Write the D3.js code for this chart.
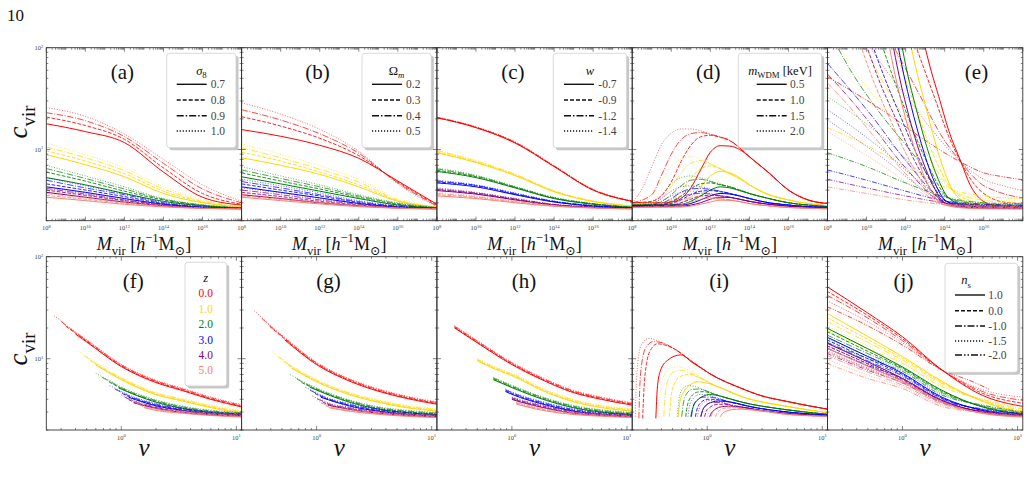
<!DOCTYPE html>
<html>
<head>
<meta charset="utf-8">
<script src="https://cdn.jsdelivr.net/npm/d3@7"></script>
<style>
  body { margin: 0; background: #fff; }
  svg text { font-family: "Liberation Serif", "DejaVu Serif", serif; }
</style>
</head>
<body>
<script>
// ---------------- data ----------------
const zLabels = ["0.0", "1.0", "2.0", "3.0", "4.0", "5.0"];
const zColors = ["#ff0000", "#ffd700", "#008000", "#0000ff", "#800080", "#fa8072"];
const sigma8Labels = ["0.7", "0.8", "0.9", "1.0"];
const omegaLabels = ["0.2", "0.3", "0.4", "0.5"];
const wLabels = ["-0.7", "-0.9", "-1.2", "-1.4"];
const mwdmLabels = ["0.5", "1.0", "1.5", "2.0"];
const nsLabels = ["1.0", "0.0", "-1.0", "-1.5", "-2.0"];
const panelLetters = ["(a)", "(b)", "(c)", "(d)", "(e)", "(f)", "(g)", "(h)", "(i)", "(j)"];

// log10 of M_vir where panels (a)-(c) are read
const massGrid = [8, 10, 12, 14, 16, 18];

// (a) sigma8: [z][style] c_vir at massGrid
const sigmaC = [
  [[17.9, 15.0, 11.7, 6.0, 3.4, 2.85], [20.8, 17.2, 12.6, 6.6, 3.7, 2.9], [23.0, 19.2, 13.4, 7.3, 4.1, 3.0], [25.8, 21.2, 14.2, 8.0, 4.5, 3.1]],
  [[8.9, 7.1, 5.4, 3.7, 3.0, 2.7], [9.7, 7.7, 5.8, 3.9, 3.05, 2.72], [10.6, 8.3, 6.2, 4.1, 3.1, 2.74], [11.6, 8.9, 6.6, 4.3, 3.2, 2.76]],
  [[5.3, 4.5, 3.7, 3.1, 2.8, 2.65], [6.0, 4.9, 3.9, 3.2, 2.82, 2.66], [6.5, 5.2, 4.1, 3.25, 2.85, 2.67], [7.0, 5.5, 4.3, 3.3, 2.87, 2.68]],
  [[4.3, 3.8, 3.3, 2.9, 2.7, 2.63], [4.6, 4.0, 3.45, 2.95, 2.72, 2.64], [5.0, 4.2, 3.6, 3.0, 2.74, 2.65], [5.3, 4.4, 3.7, 3.05, 2.76, 2.66]],
  [[3.8, 3.4, 3.05, 2.8, 2.67, 2.62], [4.0, 3.55, 3.15, 2.83, 2.68, 2.63], [4.15, 3.65, 3.2, 2.86, 2.69, 2.64], [4.3, 3.75, 3.3, 2.9, 2.7, 2.65]],
  [[3.4, 3.15, 2.9, 2.73, 2.64, 2.6], [3.55, 3.25, 2.97, 2.76, 2.65, 2.61], [3.7, 3.35, 3.03, 2.79, 2.66, 2.62], [3.9, 3.45, 3.1, 2.82, 2.68, 2.63]]
];

// (b) Omega_m
const omegaC = [
  [[15.7, 13.5, 11.0, 8.2, 4.9, 2.9], [21.0, 17.0, 12.9, 8.7, 4.8, 2.85], [24.6, 19.5, 14.3, 9.2, 4.7, 2.8], [28.8, 22.3, 15.8, 9.6, 4.6, 2.75]],
  [[8.3, 7.0, 5.7, 4.3, 3.1, 2.72], [9.4, 7.7, 6.0, 4.5, 3.15, 2.72], [10.4, 8.3, 6.4, 4.8, 3.2, 2.72], [11.4, 9.0, 6.9, 5.1, 3.3, 2.72]],
  [[5.4, 4.6, 3.9, 3.3, 2.85, 2.66], [5.9, 4.9, 4.1, 3.4, 2.9, 2.67], [6.3, 5.2, 4.3, 3.5, 2.95, 2.68], [6.8, 5.5, 4.5, 3.6, 3.0, 2.69]],
  [[4.3, 3.8, 3.35, 2.95, 2.72, 2.63], [4.6, 4.0, 3.5, 3.02, 2.75, 2.64], [4.85, 4.2, 3.6, 3.08, 2.78, 2.65], [5.1, 4.4, 3.75, 3.15, 2.8, 2.66]],
  [[3.6, 3.3, 3.0, 2.8, 2.67, 2.62], [3.8, 3.45, 3.1, 2.85, 2.69, 2.63], [4.0, 3.6, 3.2, 2.9, 2.71, 2.64], [4.2, 3.75, 3.3, 2.95, 2.73, 2.65]],
  [[3.4, 3.15, 2.92, 2.75, 2.65, 2.6], [3.5, 3.23, 2.97, 2.78, 2.66, 2.61], [3.65, 3.32, 3.03, 2.81, 2.67, 2.62], [3.8, 3.42, 3.1, 2.85, 2.69, 2.63]]
];

// (c) w
const wC = [
  [[20.5, 16.4, 11.6, 6.8, 4.0, 3.1], [20.6, 16.5, 11.7, 6.85, 4.0, 3.1], [20.7, 16.6, 11.8, 6.9, 4.05, 3.1], [20.8, 16.7, 11.9, 6.95, 4.05, 3.12]],
  [[9.3, 7.45, 5.55, 3.85, 3.08, 2.77], [9.5, 7.55, 5.6, 3.88, 3.1, 2.78], [9.75, 7.7, 5.7, 3.92, 3.12, 2.78], [9.95, 7.8, 5.75, 3.95, 3.13, 2.79]],
  [[6.1, 5.3, 4.2, 3.3, 2.9, 2.7], [6.25, 5.4, 4.25, 3.33, 2.92, 2.7], [6.45, 5.5, 4.3, 3.36, 2.94, 2.71], [6.6, 5.6, 4.35, 3.4, 2.95, 2.72]],
  [[4.7, 4.3, 3.6, 3.05, 2.78, 2.66], [4.8, 4.4, 3.65, 3.08, 2.8, 2.67], [4.9, 4.45, 3.7, 3.1, 2.81, 2.67], [5.0, 4.5, 3.75, 3.12, 2.82, 2.68]],
  [[3.95, 3.65, 3.2, 2.85, 2.7, 2.63], [4.03, 3.7, 3.24, 2.87, 2.71, 2.64], [4.1, 3.75, 3.28, 2.89, 2.72, 2.64], [4.2, 3.8, 3.32, 2.9, 2.73, 2.65]],
  [[3.5, 3.3, 3.0, 2.77, 2.66, 2.61], [3.6, 3.37, 3.05, 2.8, 2.67, 2.62], [3.7, 3.43, 3.1, 2.82, 2.68, 2.62], [3.8, 3.5, 3.15, 2.85, 2.69, 2.63]]
];

// (d) m_WDM: rising part per [z][style] as [log10 M, c], then shared tail per z
const wdmHeads = [
  [
    [[8, 3.0], [9.5, 3.0], [10, 3.05], [10.5, 3.3], [11, 4.2], [11.5, 6.3], [12, 9.4], [12.5, 10.9], [13, 10.8], [13.5, 10.0]],
    [[8, 3.0], [9, 3.1], [9.5, 3.5], [10, 4.8], [10.5, 7.6], [11, 11.0], [11.5, 13.3], [12, 13.8], [12.5, 13.2], [13, 12.2], [13.5, 10.4]],
    [[8, 3.0], [9, 3.6], [9.5, 5.6], [10, 9.0], [10.5, 12.5], [11, 14.3], [11.5, 14.7], [12, 14.1], [12.5, 13.3], [13, 12.3], [13.5, 10.4]],
    [[8, 3.0], [8.5, 4.1], [9, 6.8], [9.5, 11.2], [10, 14.5], [10.5, 15.9], [11, 15.9], [11.5, 15.3], [12, 14.2], [12.5, 13.3], [13, 12.3], [13.5, 10.4]]
  ],
  [
    [[8, 2.9], [10, 2.9], [10.5, 3.0], [11, 3.4], [11.5, 4.3], [12, 5.5], [12.5, 6.1], [13, 5.9], [13.5, 5.3]],
    [[8, 2.9], [9, 2.9], [10, 3.2], [10.5, 3.9], [11, 5.2], [11.5, 6.5], [12, 6.9], [12.5, 6.5], [13, 5.8], [13.5, 5.15]],
    [[8, 2.9], [9, 3.0], [9.5, 3.3], [10, 4.3], [10.5, 5.9], [11, 7.3], [11.5, 7.8], [12, 7.2], [12.5, 6.5], [13, 5.8], [13.5, 5.15]],
    [[8, 2.9], [8.5, 3.0], [9, 3.5], [9.5, 4.9], [10, 6.8], [10.5, 8.1], [11, 8.5], [11.5, 8.2], [12, 7.3], [12.5, 6.5], [13, 5.8], [13.5, 5.15]]
  ],
  [
    [[8, 2.85], [10.5, 2.9], [11, 3.1], [11.5, 3.5], [12, 4.0], [12.5, 4.3], [13, 4.2], [13.5, 3.95]],
    [[8, 2.85], [9.5, 2.9], [10, 3.1], [10.5, 3.5], [11, 4.1], [11.5, 4.6], [12, 4.7], [12.5, 4.5], [13, 4.3], [13.5, 4.0]],
    [[8, 2.85], [9, 2.9], [9.5, 3.1], [10, 3.6], [10.5, 4.4], [11, 5.0], [11.5, 5.1], [12, 4.85], [12.5, 4.55], [13, 4.3], [13.5, 4.0]],
    [[8, 2.85], [9, 3.1], [9.5, 3.6], [10, 4.6], [10.5, 5.3], [11, 5.5], [11.5, 5.3], [12, 4.9], [12.5, 4.6], [13, 4.3], [13.5, 4.0]]
  ],
  [
    [[8, 2.8], [10.5, 2.85], [11, 2.95], [11.5, 3.2], [12, 3.5], [12.5, 3.7], [13, 3.65], [13.5, 3.5]],
    [[8, 2.8], [9.5, 2.85], [10, 2.95], [10.5, 3.2], [11, 3.6], [11.5, 3.9], [12, 3.95], [12.5, 3.85], [13, 3.7], [13.5, 3.5]],
    [[8, 2.8], [9, 2.85], [9.5, 2.95], [10, 3.3], [10.5, 3.8], [11, 4.1], [11.5, 4.15], [12, 4.05], [12.5, 3.9], [13, 3.7], [13.5, 3.5]],
    [[8, 2.8], [9, 2.95], [9.5, 3.3], [10, 3.9], [10.5, 4.3], [11, 4.4], [11.5, 4.3], [12, 4.1], [12.5, 3.9], [13, 3.7], [13.5, 3.5]]
  ],
  [
    [[8, 2.75], [10.5, 2.78], [11, 2.85], [11.5, 3.0], [12, 3.25], [12.5, 3.4], [13, 3.38], [13.5, 3.25]],
    [[8, 2.75], [10, 2.8], [10.5, 3.0], [11, 3.25], [11.5, 3.5], [12, 3.55], [12.5, 3.5], [13, 3.4], [13.5, 3.25]],
    [[8, 2.75], [9.5, 2.85], [10, 3.05], [10.5, 3.4], [11, 3.65], [11.5, 3.72], [12, 3.65], [12.5, 3.52], [13, 3.4], [13.5, 3.25]],
    [[8, 2.75], [9, 2.85], [9.5, 3.1], [10, 3.5], [10.5, 3.8], [11, 3.9], [11.5, 3.85], [12, 3.7], [12.5, 3.55], [13, 3.4], [13.5, 3.25]]
  ],
  [
    [[8, 2.7], [10.5, 2.72], [11, 2.78], [11.5, 2.9], [12, 3.05], [12.5, 3.18], [13, 3.17], [13.5, 3.08]],
    [[8, 2.7], [10, 2.73], [10.5, 2.85], [11, 3.05], [11.5, 3.25], [12, 3.32], [12.5, 3.28], [13, 3.2], [13.5, 3.08]],
    [[8, 2.7], [9.5, 2.78], [10, 2.9], [10.5, 3.15], [11, 3.38], [11.5, 3.45], [12, 3.4], [12.5, 3.3], [13, 3.2], [13.5, 3.08]],
    [[8, 2.7], [9, 2.8], [9.5, 2.95], [10, 3.25], [10.5, 3.5], [11, 3.6], [11.5, 3.55], [12, 3.45], [12.5, 3.32], [13, 3.2], [13.5, 3.08]]
  ]
];
const wdmTails = [
  [[14, 8.5], [15, 5.9], [16, 4.0], [17, 3.2], [18, 2.95]],
  [[14, 4.5], [15, 3.6], [16, 3.2], [17, 2.95], [18, 2.8]],
  [[14, 3.7], [15, 3.3], [16, 3.0], [17, 2.85], [18, 2.75]],
  [[14, 3.3], [15, 3.0], [16, 2.85], [17, 2.75], [18, 2.7]],
  [[14, 3.1], [15, 2.9], [16, 2.78], [17, 2.7], [18, 2.66]],
  [[14, 2.95], [15, 2.8], [16, 2.7], [17, 2.65], [18, 2.62]]
];

// (e) n_s: [z][style] as [log10 M, c]
const nsMass = [
  [
    [[12.9, 120], [13.3, 60], [13.7, 33], [14.2, 15.5], [14.84, 7.5], [15.3, 4.5], [15.8, 3.3], [16.5, 2.85], [17.2, 2.75], [18, 2.72]],
    [[12.4, 120], [13, 58], [13.6, 28], [14.2, 13.5], [14.84, 7.5], [15.5, 4.6], [16.3, 3.4], [17, 3.05], [18, 2.95]],
    [[11.2, 120], [12, 62], [12.8, 32], [13.8, 14], [14.84, 7.5], [15.8, 4.7], [16.8, 3.8], [18, 3.35]],
    [[9.9, 120], [11, 60], [12, 34], [13.3, 16], [14.84, 7.5], [16, 5.1], [17, 4.4], [18, 3.95]],
    [[8, 52], [9.5, 35], [11, 23], [13, 12.3], [14.84, 7.5], [16, 5.9], [17, 5.4], [18, 5.05]]
  ],
  [
    [[12.2, 120], [12.6, 55], [13, 28], [13.5, 12], [14, 6.0], [14.4, 4.0], [15, 3.1], [16, 2.8], [18, 2.72]],
    [[11.3, 120], [11.9, 55], [12.5, 26], [13.3, 10], [14.4, 4.0], [15.2, 3.2], [16.5, 2.9], [18, 2.8]],
    [[9.8, 120], [10.6, 56], [11.5, 28], [12.8, 11], [14.4, 4.0], [15.5, 3.3], [18, 2.95]],
    [[8.4, 120], [9.5, 55], [10.8, 27], [12.5, 11.2], [14.4, 4.0], [16, 3.3], [18, 3.1]],
    [[8, 16.4], [10, 11], [12, 6.8], [14.4, 4.0], [16, 3.5], [18, 3.3]]
  ],
  [
    [[11.75, 120], [12.1, 55], [12.5, 27], [13, 12], [13.6, 5.5], [14.2, 3.35], [15, 2.85], [16, 2.72], [18, 2.68]],
    [[10.7, 120], [11.3, 55], [12.0, 24], [12.9, 9], [14.2, 3.35], [15.2, 2.9], [18, 2.75]],
    [[8.3, 120], [9.3, 55], [10.6, 24], [12.3, 9.5], [14.2, 3.35], [15.5, 2.95], [18, 2.82]],
    [[8, 33], [9.5, 21], [11, 12.5], [12.5, 6.5], [14.2, 3.35], [16, 2.95], [18, 2.88]],
    [[8, 9.3], [10, 6.8], [12, 4.7], [14.2, 3.35], [16, 3.0], [18, 2.92]]
  ],
  [
    [[11.55, 120], [11.9, 55], [12.3, 26], [12.8, 11.5], [13.4, 5.2], [14.1, 3.1], [15, 2.75], [16, 2.67], [18, 2.65]],
    [[10.2, 120], [10.9, 52], [11.7, 22], [12.7, 8], [14.1, 3.1], [15.2, 2.78], [18, 2.7]],
    [[8, 70], [9, 42], [10.3, 21], [12, 7.8], [14.1, 3.1], [15.5, 2.82], [18, 2.75]],
    [[8, 24.6], [9.5, 15.5], [11, 9.3], [12.5, 5.2], [14.1, 3.1], [16, 2.85], [18, 2.8]],
    [[8, 6.3], [10, 5.0], [12, 3.9], [14.1, 3.1], [16, 2.9], [18, 2.85]]
  ],
  [
    [[11.3, 120], [11.65, 55], [12.05, 26], [12.6, 11], [13.3, 4.9], [14.0, 3.0], [15, 2.7], [16, 2.65], [18, 2.63]],
    [[9.9, 120], [10.6, 50], [11.5, 20], [12.5, 7.5], [14.0, 3.0], [15.2, 2.74], [18, 2.68]],
    [[8, 55], [9, 34], [10.3, 17], [12, 6.6], [14.0, 3.0], [15.5, 2.78], [18, 2.72]],
    [[8, 19.5], [9.5, 12.5], [11, 7.8], [12.5, 4.6], [14.0, 3.0], [16, 2.8], [18, 2.76]],
    [[8, 5.1], [10, 4.2], [12, 3.5], [14.0, 3.0], [16, 2.85], [18, 2.8]]
  ],
  [
    [[11.1, 120], [11.45, 55], [11.85, 26], [12.4, 11], [13.1, 4.7], [13.9, 2.9], [15, 2.66], [16, 2.62], [18, 2.6]],
    [[9.6, 120], [10.3, 50], [11.2, 20], [12.3, 7.2], [13.9, 2.9], [15.2, 2.7], [18, 2.65]],
    [[8, 45], [9, 28], [10.3, 14], [12, 5.8], [13.9, 2.9], [15.5, 2.74], [18, 2.68]],
    [[8, 15], [9.5, 10], [11, 6.6], [12.5, 4.1], [13.9, 2.9], [16, 2.76], [18, 2.72]],
    [[8, 4.3], [10, 3.7], [12, 3.2], [13.9, 2.9], [16, 2.8], [18, 2.76]]
  ]
];

// (f) c vs nu for sigma8: band per z, styles start at different points of it
const sigmaNu = [
  [[0.26, 25.6], [0.3, 23], [0.33, 21], [0.4, 17.9], [0.5, 15.0], [1, 8.6], [2, 6.0], [3.4, 5.0], [6, 4.1], [11.2, 3.45]],
  [[0.42, 11.6], [0.475, 10.6], [0.535, 9.7], [0.6, 8.9], [1, 6.4], [2, 4.55], [3.4, 3.95], [6, 3.4], [11.2, 3.0]],
  [[0.6, 7.0], [0.68, 6.5], [0.78, 6.0], [0.95, 5.3], [2, 3.85], [3.4, 3.35], [6, 3.05], [11.2, 2.9]],
  [[0.79, 5.3], [0.88, 5.0], [1.02, 4.6], [1.16, 4.3], [2, 3.55], [3.4, 3.2], [6, 2.95], [11.2, 2.85]],
  [[1.0, 4.3], [1.07, 4.15], [1.16, 4.0], [1.28, 3.8], [2, 3.35], [3.4, 3.05], [6, 2.88], [11.2, 2.8]],
  [[1.17, 3.9], [1.31, 3.7], [1.44, 3.55], [1.58, 3.4], [2, 3.2], [3.4, 3.0], [6, 2.85], [11.2, 2.75]]
];
const sigmaNuStart = [3, 2, 1, 0];

// (g) Omega_m
const omegaNu = [
  [[0.287, 28.8], [0.335, 24.6], [0.39, 21], [0.53, 15.7], [1, 9.0], [2, 6.1], [3.4, 4.95], [6, 4.2], [11.2, 3.67]],
  [[0.41, 11.4], [0.46, 10.4], [0.52, 9.4], [0.61, 8.3], [1, 6.1], [2, 4.5], [3.4, 3.85], [6, 3.4], [11.2, 3.15]],
  [[0.59, 6.8], [0.67, 6.3], [0.74, 5.9], [0.87, 5.4], [2, 3.8], [3.4, 3.3], [6, 3.05], [11.2, 2.9]],
  [[0.8, 5.1], [0.88, 4.85], [0.97, 4.6], [1.09, 4.3], [2, 3.5], [3.4, 3.15], [6, 2.92], [11.2, 2.8]],
  [[0.92, 4.2], [1.01, 4.0], [1.13, 3.8], [1.25, 3.6], [2, 3.25], [3.4, 3.0], [6, 2.85], [11.2, 2.75]],
  [[1.0, 3.8], [1.09, 3.65], [1.2, 3.5], [1.28, 3.4], [2, 3.12], [3.4, 2.93], [6, 2.8], [11.2, 2.72]]
];
const omegaNuStart = [3, 2, 1, 0];

// (h) w
const wNu = [
  [[0.317, 20.6], [0.5, 14.7], [1, 9.0], [2, 6.1], [3.2, 4.9], [6, 4.1], [11.2, 3.6]],
  [[0.5, 9.8], [0.7, 8.2], [1, 7.0], [2, 4.8], [3.4, 3.9], [6, 3.4], [11.2, 3.15]],
  [[0.69, 6.4], [1, 5.35], [2, 4.0], [3.4, 3.4], [6, 3.08], [11.2, 2.9]],
  [[0.88, 4.9], [1, 4.6], [2, 3.6], [3.4, 3.15], [6, 2.92], [11.2, 2.8]],
  [[1.0, 4.1], [1.2, 3.85], [2, 3.35], [3.4, 3.0], [6, 2.85], [11.2, 2.75]],
  [[1.09, 3.7], [1.3, 3.5], [2, 3.15], [3.4, 2.92], [6, 2.8], [11.2, 2.72]]
];
const wNuStart = [0, 0, 0, 0];

// (i) m_WDM vs nu
const wdmNuHeads = [
  [
    [[0.358, 2.6], [0.368, 5], [0.39, 7.5], [0.45, 9.6], [0.59, 10.9], [0.75, 9.1], [0.9, 8.0]],
    [[0.275, 2.6], [0.282, 5], [0.295, 8.5], [0.32, 12], [0.37, 14.0], [0.45, 13.4], [0.55, 12.0], [0.7, 9.8], [0.85, 8.4]],
    [[0.255, 2.6], [0.26, 5.5], [0.272, 9.5], [0.295, 13], [0.34, 14.7], [0.4, 14.4], [0.5, 12.8], [0.7, 9.8], [0.85, 8.4]],
    [[0.237, 2.7], [0.242, 5.5], [0.252, 10], [0.27, 14], [0.313, 15.8], [0.38, 14.8], [0.5, 12.8], [0.7, 9.8], [0.85, 8.4]]
  ],
  [
    [[0.56, 2.7], [0.58, 3.8], [0.63, 4.8], [0.72, 5.6], [0.82, 5.95], [1.0, 5.75], [1.15, 5.5]],
    [[0.47, 2.7], [0.485, 4.2], [0.52, 5.7], [0.6, 6.8], [0.7, 7.0], [0.85, 6.5], [1.05, 5.8], [1.15, 5.5]],
    [[0.42, 2.7], [0.432, 4.5], [0.46, 6.3], [0.52, 7.5], [0.6, 7.7], [0.72, 7.2], [0.9, 6.4], [1.05, 5.8], [1.15, 5.5]],
    [[0.38, 2.7], [0.39, 4.5], [0.42, 6.8], [0.48, 8.1], [0.55, 8.35], [0.68, 7.8], [0.85, 6.7], [1.05, 5.8], [1.15, 5.5]]
  ],
  [
    [[0.72, 2.7], [0.75, 3.3], [0.82, 3.9], [0.93, 4.3], [1.05, 4.45], [1.18, 4.4]],
    [[0.65, 2.7], [0.67, 3.4], [0.72, 4.2], [0.82, 4.7], [0.93, 4.75], [1.08, 4.6], [1.18, 4.45]],
    [[0.6, 2.7], [0.62, 3.6], [0.66, 4.5], [0.74, 5.0], [0.84, 5.05], [1.0, 4.8], [1.18, 4.45]],
    [[0.55, 2.7], [0.565, 3.8], [0.6, 4.9], [0.68, 5.45], [0.78, 5.35], [0.98, 4.85], [1.18, 4.45]]
  ],
  [
    [[0.88, 2.7], [0.91, 3.1], [0.98, 3.5], [1.1, 3.75], [1.25, 3.85], [1.45, 3.8]],
    [[0.79, 2.7], [0.815, 3.2], [0.88, 3.7], [1.0, 4.0], [1.15, 4.0], [1.35, 3.9]],
    [[0.73, 2.7], [0.75, 3.3], [0.81, 3.9], [0.92, 4.2], [1.06, 4.2], [1.3, 4.0]],
    [[0.68, 2.7], [0.7, 3.4], [0.76, 4.1], [0.86, 4.45], [1.0, 4.4], [1.25, 4.1]]
  ],
  [
    [[1.05, 2.7], [1.09, 2.95], [1.18, 3.2], [1.33, 3.38], [1.53, 3.42], [1.78, 3.38]],
    [[0.95, 2.7], [0.98, 3.05], [1.06, 3.35], [1.18, 3.55], [1.38, 3.58], [1.68, 3.45]],
    [[0.88, 2.7], [0.91, 3.1], [0.98, 3.5], [1.1, 3.72], [1.28, 3.72], [1.6, 3.52]],
    [[0.82, 2.7], [0.85, 3.2], [0.92, 3.65], [1.03, 3.9], [1.2, 3.85], [1.5, 3.6]]
  ],
  [
    [[1.3, 2.7], [1.35, 2.88], [1.46, 3.05], [1.65, 3.17], [1.93, 3.2], [2.25, 3.17]],
    [[1.18, 2.7], [1.22, 2.95], [1.31, 3.15], [1.48, 3.3], [1.73, 3.3], [2.12, 3.22]],
    [[1.08, 2.7], [1.12, 3.0], [1.2, 3.25], [1.36, 3.42], [1.58, 3.4], [2.02, 3.25]],
    [[1.0, 2.7], [1.04, 3.05], [1.11, 3.35], [1.25, 3.55], [1.48, 3.5], [1.97, 3.3]]
  ]
];
const wdmNuTails = [
  [[1.04, 7.2], [2, 5.1], [2.83, 4.4], [5, 3.8], [10, 3.27], [11.2, 3.2]],
  [[1.3, 5.2], [2, 4.25], [5, 3.4], [11.2, 2.95]],
  [[1.3, 4.3], [2, 3.75], [5, 3.15], [11.2, 2.85]],
  [[1.6, 3.75], [2.5, 3.35], [5, 3.0], [11.2, 2.8]],
  [[2, 3.35], [3, 3.1], [5, 2.9], [11.2, 2.75]],
  [[2.5, 3.15], [5, 2.85], [11.2, 2.72]]
];

// (j) n_s vs nu
const nsNu = [
  [
    [[0.22, 51], [0.5, 28], [1, 16.4], [2.2, 7.75], [5, 4.35], [11.2, 3.4]],
    [[0.22, 46], [0.5, 26.5], [1, 15.7], [2.2, 7.75], [5, 4.55], [11.2, 3.65]],
    [[0.22, 42], [0.5, 25], [1, 15.0], [2.2, 7.75], [5, 4.75], [11.2, 3.9]],
    [[0.22, 37], [0.5, 23], [1, 14.3], [2.2, 7.75], [5, 4.95], [11.2, 4.2]],
    [[0.22, 32.4], [0.5, 21], [1, 13.6], [2.2, 7.75], [4, 6.0], [5.7, 5.0]]
  ],
  [
    [[0.22, 28], [0.5, 16.5], [1, 10.5], [2.2, 6.0], [5, 3.8], [11.2, 2.9]],
    [[0.22, 25.5], [0.5, 15.4], [1, 10.1], [2.2, 5.85], [5, 3.85], [11.2, 3.0]],
    [[0.22, 23.3], [0.5, 14.4], [1, 9.7], [2.2, 5.7], [5, 3.9], [11.2, 3.07]],
    [[0.22, 21], [0.5, 13.4], [1, 9.3], [2.2, 5.5], [5, 3.95], [11.2, 3.13]],
    [[0.22, 19], [0.5, 12.5], [1, 9.0], [2.2, 5.3], [5, 4.0], [11.2, 3.2]]
  ],
  [
    [[0.22, 20], [0.5, 12.5], [1, 8.3], [2.2, 4.9], [5, 3.35], [11.2, 2.85]],
    [[0.22, 18.5], [0.5, 11.8], [1, 8.1], [2.2, 4.78], [5, 3.38], [11.2, 2.88]],
    [[0.22, 17.1], [0.5, 11.2], [1, 7.9], [2.2, 4.65], [5, 3.42], [11.2, 2.92]],
    [[0.22, 15.8], [0.5, 10.6], [1, 7.7], [2.2, 4.52], [5, 3.46], [11.2, 2.96]],
    [[0.22, 14.5], [0.5, 10.0], [1, 7.5], [2.2, 4.4], [5, 3.5], [11.2, 3.0]]
  ],
  [
    [[0.22, 16.3], [0.5, 10.5], [1, 7.2], [2.2, 4.2], [5, 3.1], [11.2, 2.78]],
    [[0.22, 15.3], [0.5, 10.0], [1, 7.0], [2.2, 4.12], [5, 3.13], [11.2, 2.8]],
    [[0.22, 14.4], [0.5, 9.5], [1, 6.8], [2.2, 4.05], [5, 3.16], [11.2, 2.83]],
    [[0.22, 13.5], [0.5, 9.0], [1, 6.6], [2.2, 3.97], [5, 3.19], [11.2, 2.86]],
    [[0.22, 12.7], [0.5, 8.6], [1, 6.4], [2.2, 3.9], [5, 3.22], [11.2, 2.9]]
  ],
  [
    [[0.22, 14.2], [0.5, 9.3], [1, 6.4], [2.2, 3.9], [5, 2.98], [11.2, 2.73]],
    [[0.22, 13.4], [0.5, 8.9], [1, 6.25], [2.2, 3.85], [5, 3.0], [11.2, 2.76]],
    [[0.22, 12.7], [0.5, 8.5], [1, 6.1], [2.2, 3.8], [5, 3.02], [11.2, 2.78]],
    [[0.22, 12.0], [0.5, 8.1], [1, 5.95], [2.2, 3.75], [5, 3.04], [11.2, 2.81]],
    [[0.22, 11.3], [0.5, 7.7], [1, 5.8], [2.2, 3.7], [5, 3.06], [11.2, 2.84]]
  ],
  [
    [[0.22, 12.7], [0.5, 8.4], [1, 6.0], [2.2, 3.8], [5, 2.9], [11.2, 2.68]],
    [[0.22, 11.7], [0.5, 7.9], [1, 5.75], [2.2, 3.7], [5, 2.92], [11.2, 2.7]],
    [[0.22, 10.8], [0.5, 7.4], [1, 5.5], [2.2, 3.6], [5, 2.94], [11.2, 2.72]],
    [[0.22, 9.9], [0.5, 6.9], [1, 5.3], [2.2, 3.5], [5, 2.96], [11.2, 2.75]],
    [[0.22, 9.0], [0.5, 6.4], [1, 5.1], [2.2, 3.4], [5, 2.98], [11.2, 2.78]]
  ]
];

// ---------------- layout / style ----------------
const W = 1030, H = 485;
const colLeft = 46.3, colWidth = 195.3;
const rowBox = [[47.7, 220.7], [256.7, 430]];
const cDomain = [2, 100];
const nuDomain = [0.223, 11.1];
const ink = "#333";
const serif = "'Liberation Serif', 'DejaVu Serif', serif";

const curveDash = [null, "3.7,1.6", "6.4,1.6,1,1.6", "1,1.65", "5,1.5,1,1.5,1,1.5"];
const legendDash = [null, "4,2", "7,2,1.5,2", "1.2,1.8", "7,2,1.5,2,1.5,2"];
const styleAlpha = [1, 0.85, 0.72, 0.6, 0.75];
const bandShift = [1.2, 0.4, -0.4, -1.2];

const svg = d3.select("body").append("svg")
  .attr("width", W).attr("height", H)
  .attr("font-family", serif)
  .style("display", "block");

// page number
svg.append("text").attr("x", 7).attr("y", 21).attr("font-size", 17).attr("fill", "#111").text("10");

function richText(parent, x, y, parts, size, anchor) {
  const t = parent.append("text")
    .attr("x", x).attr("y", y)
    .attr("font-size", size)
    .attr("text-anchor", anchor || "middle")
    .attr("fill", "#111");
  let shift = 0;
  parts.forEach(p => {
    const target = p.sub ? size * 0.3 : p.sup ? -size * 0.42 : 0;
    t.append("tspan")
      .attr("dy", target - shift)
      .attr("font-size", (p.sub || p.sup) ? size * 0.7 : size)
      .attr("font-style", p.it ? "italic" : "normal")
      .text(p.t);
    shift = target;
  });
  return t;
}

function makePanel(idx) {
  const row = idx < 5 ? 0 : 1, col = idx % 5;
  const x0 = colLeft + col * colWidth, x1 = x0 + colWidth;
  const [y0, y1] = rowBox[row];
  const g = svg.append("g");
  const x = row === 0
    ? d3.scaleLinear().domain([8, 18]).range([x0, x1])
    : d3.scaleLog().domain(nuDomain).range([x0, x1]);
  const y = d3.scaleLog().domain(cDomain).range([y1, y0]);
  const clipId = "clip" + idx;
  g.append("clipPath").attr("id", clipId)
    .append("rect").attr("x", x0).attr("y", y0).attr("width", colWidth).attr("height", y1 - y0);
  const plot = g.append("g").attr("clip-path", `url(#${clipId})`);
  return { idx, row, col, x0, x1, y0, y1, g, plot, x, y };
}

function drawCurve(p, pts, z, s, dy) {
  const line = d3.line()
    .x(d => p.x(d[0]))
    .y(d => p.y(d[1]))
    .curve(d3.curveMonotoneX);
  p.plot.append("path")
    .datum(pts)
    .attr("d", line)
    .attr("fill", "none")
    .attr("stroke", zColors[z])
    .attr("stroke-opacity", styleAlpha[s])
    .attr("stroke-width", 1)
    .attr("stroke-dasharray", curveDash[s])
    .attr("transform", dy ? `translate(0,${dy})` : null);
}

function drawFrame(p) {
  const g = p.g;
  // y ticks
  const yTicks = [];
  for (let e = 0; e <= 2; e++) for (let k = 1; k < 10; k++) {
    const v = k * Math.pow(10, e);
    if (v >= cDomain[0] && v <= cDomain[1]) yTicks.push({ v, major: k === 1 });
  }
  yTicks.forEach(t => {
    const yy = p.y(t.v), len = t.major ? 4 : 2;
    g.append("line").attr("x1", p.x0).attr("x2", p.x0 + len).attr("y1", yy).attr("y2", yy).attr("stroke", ink).attr("stroke-width", 0.6);
    g.append("line").attr("x1", p.x1).attr("x2", p.x1 - len).attr("y1", yy).attr("y2", yy).attr("stroke", ink).attr("stroke-width", 0.6);
    if (t.major && p.col === 0) {
      const lab = g.append("text").attr("x", p.x0 - 3).attr("y", yy + 2.3).attr("text-anchor", "end").attr("font-size", 6.5).attr("fill", "#444");
      lab.append("tspan").text("10");
      lab.append("tspan").attr("dy", -2.5).attr("font-size", 4.6).text(String(Math.round(Math.log10(t.v))));
    }
  });
  // x ticks
  const xTicks = [];
  if (p.row === 0) {
    for (let e = 8; e <= 18; e++) for (let k = 1; k < 10; k++) {
      const v = e + Math.log10(k);
      if (v <= 18.0001) xTicks.push({ v, major: k === 1 && e % 2 === 0, e });
    }
  } else {
    for (let e = -1; e <= 1; e++) for (let k = 1; k < 10; k++) {
      const v = k * Math.pow(10, e);
      if (v >= nuDomain[0] && v <= nuDomain[1]) xTicks.push({ v, major: k === 1, e });
    }
  }
  xTicks.forEach(t => {
    const xx = p.x(t.v), len = t.major ? 4 : 2;
    g.append("line").attr("x1", xx).attr("x2", xx).attr("y1", p.y1).attr("y2", p.y1 - len).attr("stroke", ink).attr("stroke-width", 0.6);
    g.append("line").attr("x1", xx).attr("x2", xx).attr("y1", p.y0).attr("y2", p.y0 + len).attr("stroke", ink).attr("stroke-width", 0.6);
    const showLabel = t.major && !(p.row === 0 && t.e === 18);
    if (showLabel) {
      const lab = g.append("text").attr("x", xx).attr("y", p.y1 + 9.5).attr("text-anchor", "middle").attr("font-size", 6.5).attr("fill", "#444");
      lab.append("tspan").text("10");
      lab.append("tspan").attr("dy", -2.5).attr("font-size", 4.6).text(String(t.e));
    }
  });
  g.append("rect").attr("x", p.x0).attr("y", p.y0).attr("width", colWidth).attr("height", p.y1 - p.y0)
    .attr("fill", "none").attr("stroke", ink).attr("stroke-width", 0.9);
}

function legendBox(g, bx, by, bw, bh) {
  g.append("rect").attr("x", bx + 2.5).attr("y", by + 2.5).attr("width", bw).attr("height", bh)
    .attr("rx", 3).attr("fill", "#999").attr("fill-opacity", 0.55);
  g.append("rect").attr("x", bx).attr("y", by).attr("width", bw).attr("height", bh)
    .attr("rx", 3).attr("fill", "#fff").attr("stroke", "#cfcfcf").attr("stroke-width", 0.8);
}

function lineLegend(p, bx, bw, titleParts, labels, lineDx, textDx, rowsY, titleX, titleY, bh) {
  const g = p.g;
  legendBox(g, bx, rowsY.box, bw, bh);
  richText(g, titleX, titleY, titleParts, 12.5, "middle");
  labels.forEach((lab, i) => {
    const yy = rowsY.rows[i];
    g.append("line").attr("x1", bx + lineDx).attr("x2", bx + lineDx + 30).attr("y1", yy).attr("y2", yy)
      .attr("stroke", "#111").attr("stroke-width", 1.4).attr("stroke-dasharray", legendDash[i]);
    g.append("text").attr("x", bx + textDx).attr("y", yy + 4).attr("font-size", 11.5).attr("fill", "#444").text(lab);
  });
}

const panels = d3.range(10).map(makePanel);

// ---- curves ----
const gridSets = [sigmaC, omegaC, wC];
gridSets.forEach((set, pi) => {
  set.forEach((styles, z) => styles.forEach((vals, s) => {
    drawCurve(panels[pi], massGrid.map((m, i) => [m, vals[i]]), z, s);
  }));
});
wdmHeads.forEach((styles, z) => styles.forEach((head, s) => {
  drawCurve(panels[3], head.concat(wdmTails[z]), z, s);
}));
nsMass.forEach((styles, z) => styles.forEach((pts, s) => drawCurve(panels[4], pts, z, s)));

[[sigmaNu, sigmaNuStart, 5], [omegaNu, omegaNuStart, 6], [wNu, wNuStart, 7]].forEach(([bands, starts, pi]) => {
  bands.forEach((band, z) => starts.forEach((st, s) => {
    drawCurve(panels[pi], band.slice(st), z, s, bandShift[s]);
  }));
});
wdmNuHeads.forEach((styles, z) => styles.forEach((head, s) => {
  drawCurve(panels[8], head.concat(wdmNuTails[z]), z, s);
}));
nsNu.forEach((styles, z) => styles.forEach((pts, s) => drawCurve(panels[9], pts, z, s)));

panels.forEach(drawFrame);

// ---- panel letters ----
panels.forEach((p, i) => {
  const off = i === 4 ? 149 : i === 9 ? 76 : i < 5 ? 76 : 87;
  p.g.append("text").attr("x", p.x0 + off).attr("y", p.row === 0 ? 78.5 : 287.5)
    .attr("text-anchor", "middle").attr("font-size", 21).attr("fill", "#111").text(panelLetters[i]);
});

// ---- axis labels ----
const massLabel = [{ t: "M", it: 1 }, { t: "vir", sub: 1 }, { t: " [" }, { t: "h", it: 1 }, { t: "−1", sup: 1 },
  { t: "M" }, { t: "⊙", sub: 1 }, { t: "]" }];
panels.forEach(p => {
  const cx = p.x0 + colWidth / 2;
  if (p.row === 0) richText(svg, cx, 250, massLabel, 18, "middle");
  else richText(svg, cx, 456, [{ t: "ν", it: 1 }], 25, "middle");
});
[122, 349].forEach(cy => {
  const gl = svg.append("g").attr("transform", `translate(27,${cy}) rotate(-90)`);
  richText(gl, 0, 0, [{ t: "c", it: 1 }, { t: "vir", sub: 1 }], 27, "middle");
});

// ---- legends ----
const topRows = { box: 53.3, rows: [84.3, 100, 115.7, 131] };
lineLegend(panels[0], 166.7, 69.3, [{ t: "σ", it: 1 }, { t: "8", sub: 1 }], sigma8Labels, 10, 44, topRows, 201.4, 74.5, 94.4);
lineLegend(panels[1], 362, 69.3, [{ t: "Ω", it: 0 }, { t: "m", sub: 1, it: 1 }], omegaLabels, 10, 44, topRows, 396.6, 74.5, 94.4);
lineLegend(panels[2], 553.3, 73.3, [{ t: "w", it: 1 }], wLabels, 10.7, 45, topRows, 590, 74.5, 94.4);
lineLegend(panels[3], 738.3, 83.4, [{ t: "m", it: 1 }, { t: "WDM", sub: 1 }, { t: " [keV]" }], mwdmLabels, 18.4, 51.7, topRows, 780, 74.5, 94.4);

// (f) redshift legend with coloured labels
{
  const g = panels[5].g;
  legendBox(g, 185, 262.3, 41.7, 123.7);
  richText(g, 205.8, 282, [{ t: "z", it: 1 }], 12.5, "middle");
  const zRows = [293.3, 309, 324.3, 340, 355, 370];
  zLabels.forEach((lab, i) => {
    g.append("text").attr("x", 205.8).attr("y", zRows[i] + 4).attr("text-anchor", "middle")
      .attr("font-size", 11.5).attr("fill", zColors[i]).text(lab);
  });
}
// (j) n_s legend
lineLegend(panels[9], 945, 72.7, [{ t: "n", it: 1 }, { t: "s", sub: 1 }], nsLabels, 10, 43.3,
  { box: 263.3, rows: [295, 310.7, 326, 341, 355] }, 966, 284, 109);
</script>
</body>
</html>
